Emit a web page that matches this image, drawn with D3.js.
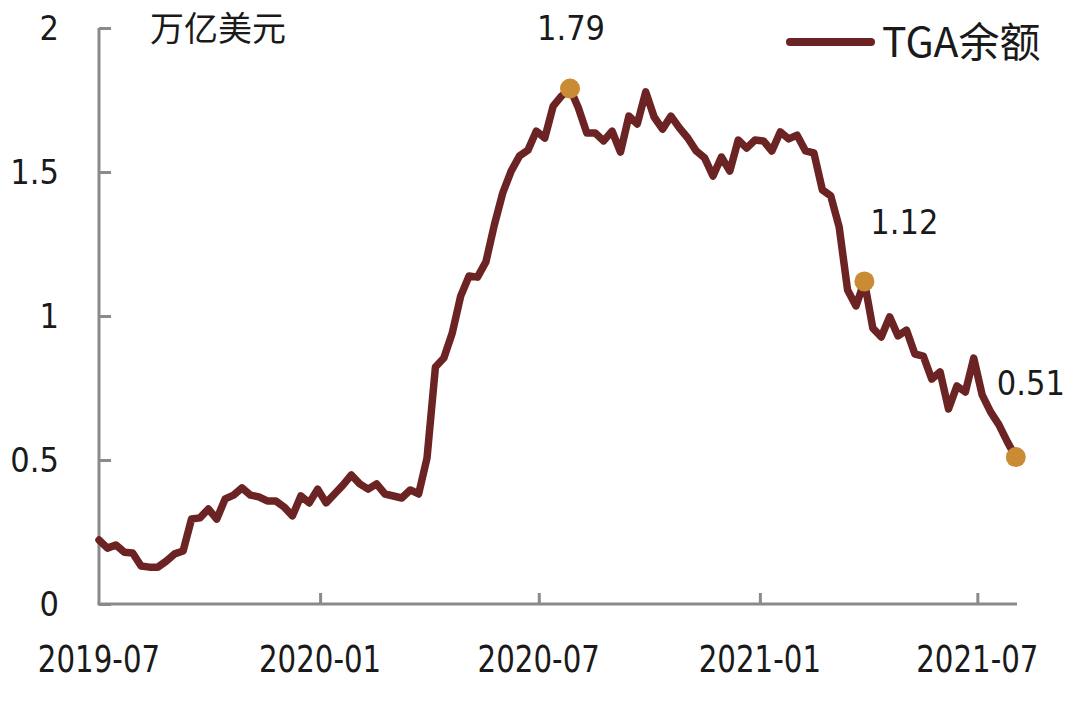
<!DOCTYPE html>
<html>
<head>
<meta charset="utf-8">
<script src="https://cdn.jsdelivr.net/npm/d3@7"></script>
<style>
  html, body { margin: 0; padding: 0; background: #ffffff; }
  svg { display: block; }
  .num { font-family: "Liberation Sans Narrow", "DejaVu Sans Condensed", "Noto Sans", sans-serif; }
  .cjk { font-family: "Noto Sans CJK SC", "Noto Sans", sans-serif; }
</style>
</head>
<body>
<svg id="chart" width="1080" height="706"></svg>
<script>
// ---- data ----
const startDate = "2019-07-01";            // first weekly observation
const weekStepDays = 7;
const tgaValues = [
  0.222, 0.194, 0.205, 0.180, 0.177, 0.132, 0.128, 0.128, 0.149, 0.174,
  0.184, 0.295, 0.299, 0.330, 0.295, 0.365, 0.378, 0.403, 0.378, 0.372,
  0.358, 0.358, 0.337, 0.306, 0.375, 0.351, 0.399, 0.351, 0.382, 0.413,
  0.448, 0.417, 0.399, 0.417, 0.382, 0.375, 0.368, 0.396, 0.382, 0.507,
  0.823, 0.854, 0.941, 1.069, 1.139, 1.135, 1.188, 1.316, 1.427, 1.503,
  1.556, 1.576, 1.642, 1.618, 1.729, 1.764, 1.790, 1.722, 1.635, 1.635,
  1.608, 1.642, 1.569, 1.694, 1.667, 1.778, 1.691, 1.649, 1.694, 1.653,
  1.618, 1.573, 1.549, 1.486, 1.552, 1.503, 1.611, 1.583, 1.611, 1.608,
  1.573, 1.639, 1.615, 1.628, 1.573, 1.566, 1.438, 1.417, 1.309, 1.090,
  1.035, 1.120, 0.958, 0.927, 0.997, 0.931, 0.951, 0.868, 0.861, 0.781,
  0.806, 0.677, 0.757, 0.736, 0.854, 0.726, 0.667, 0.622, 0.563, 0.510
];
const highlightIdx = [56, 91, 109];
const highlightLabels = ["1.79", "1.12", "0.51"];
const yTicks = [0, 0.5, 1, 1.5, 2];
const yTickLabels = ["0", "0.5", "1", "1.5", "2"];
const xTickDates = ["2019-07-01", "2020-01-01", "2020-07-01", "2021-01-01", "2021-07-01"];
const xTickLabels = ["2019-07", "2020-01", "2020-07", "2021-01", "2021-07"];
const xDomain = ["2019-07-01", "2021-08-03"];
const unitLabel = "万亿美元";
const seriesName = "TGA余额";

// ---- build ----
const parse = d3.timeParse("%Y-%m-%d");
const t0 = parse(startDate);
const data = tgaValues.map((v, i) => ({ date: d3.timeDay.offset(t0, i * weekStepDays), value: v }));

const lineColor = "#6c2323";
const dotColor = "#c98b33";
const axisColor = "#8a8a8a";

const svg = d3.select("#chart");
const x = d3.scaleTime().domain(xDomain.map(parse)).range([99, 1017]);
const y = d3.scaleLinear().domain([0, 2]).range([604, 28]);

// axes
const yAxis = d3.axisRight(y).tickValues(yTicks).tickSize(12).tickFormat("");
const gy = svg.append("g").attr("transform", "translate(99,0)").call(yAxis);
gy.select(".domain").attr("d", `M0,${y(2)}V${y(0)}`);
gy.selectAll("path,line").attr("stroke", axisColor).attr("stroke-width", 3);

const xAxis = d3.axisTop(x).tickValues(xTickDates.slice(1).map(parse)).tickSize(11).tickFormat("");
const gx = svg.append("g").attr("transform", `translate(0,${y(0)})`).call(xAxis);
gx.select(".domain").attr("d", `M${x.range()[0] - 1.5},0H${x.range()[1]}`);
gx.selectAll("path,line").attr("stroke", axisColor).attr("stroke-width", 3);

// tick labels
svg.append("g").selectAll("text").data(yTicks).join("text")
  .attr("class", "num")
  .attr("x", 59).attr("y", d => y(d))
  .attr("dy", "0.36em")
  .attr("text-anchor", "end")
  .attr("font-size", 34).attr("fill", "#1a1a1a")
  .text((d, i) => yTickLabels[i]);

svg.append("g").selectAll("text").data(xTickDates).join("text")
  .attr("class", "num")
  .attr("transform", d => `translate(${x(parse(d))},659) scale(0.93,1.05)`)
  .attr("dy", "0.36em")
  .attr("text-anchor", "middle")
  .attr("font-size", 35).attr("fill", "#1a1a1a")
  .text((d, i) => xTickLabels[i]);

// unit label
svg.append("text").attr("class", "cjk")
  .attr("x", 150).attr("y", 29).attr("dy", "0.36em")
  .attr("font-size", 34).attr("fill", "#1a1a1a")
  .text(unitLabel);

// line
const line = d3.line().x(d => x(d.date)).y(d => y(d.value));
svg.append("path").datum(data)
  .attr("d", line)
  .attr("fill", "none")
  .attr("stroke", lineColor)
  .attr("stroke-width", 7.5)
  .attr("stroke-linejoin", "round")
  .attr("stroke-linecap", "round");

// highlighted points
const hl = highlightIdx.map((i, k) => ({ ...data[i], label: highlightLabels[k] }));
svg.append("g").selectAll("circle").data(hl).join("circle")
  .attr("cx", d => x(d.date)).attr("cy", d => y(d.value))
  .attr("r", 10).attr("fill", dotColor);

const labelOffsets = [[1, -61], [40, -60], [15, -74]];
svg.append("g").selectAll("text").data(hl).join("text")
  .attr("class", "num")
  .attr("x", (d, i) => x(d.date) + labelOffsets[i][0])
  .attr("y", (d, i) => y(d.value) + labelOffsets[i][1])
  .attr("dy", "0.36em")
  .attr("text-anchor", "middle")
  .attr("font-size", 34).attr("fill", "#1a1a1a")
  .text(d => d.label);

// legend
const lg = svg.append("g");
lg.append("line").attr("x1", 790).attr("x2", 871).attr("y1", 42).attr("y2", 42)
  .attr("stroke", lineColor).attr("stroke-width", 8).attr("stroke-linecap", "round");
lg.append("text").attr("class", "cjk")
  .attr("x", 882).attr("y", 42).attr("dy", "0.36em")
  .attr("font-size", 41).attr("fill", "#1a1a1a")
  .text(seriesName);
</script>
</body>
</html>
